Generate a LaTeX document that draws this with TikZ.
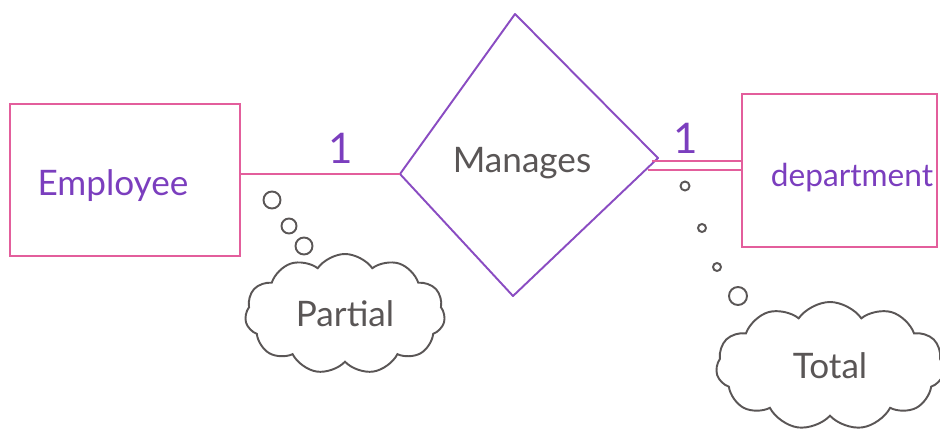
\documentclass[tikz,border=0pt]{standalone}
\usepackage{fontspec}
\setmainfont{Lato}
\usetikzlibrary{shapes.symbols,calc}
\definecolor{penpink}{HTML}{E35E9C}
\definecolor{penpurple}{HTML}{8A4CC2}
\definecolor{txtpurple}{HTML}{7B3EBE}
\definecolor{pengrey}{HTML}{5A5656}
\tikzset{
  entity/.style={draw=penpink, line width=1.1pt, rectangle},
  reltext/.style={text=pengrey, font=\fontsize{20}{24}\selectfont},
  enttext/.style={text=txtpurple, font=\fontsize{20}{24}\selectfont},
  cardlabel/.style={text=txtpurple, font=\fontsize{24}{28}\selectfont},
  thought/.style={draw=pengrey, line width=1.1pt, cloud, cloud puffs=11, cloud puff arc=110, cloud ignores aspect, inner sep=0pt, text=pengrey, font=\fontsize{20}{24}\selectfont},
  bubble/.style={draw=pengrey, line width=1.1pt, circle, inner sep=0pt},
  conn/.style={draw=penpink, line width=1.1pt},
}
\begin{document}
\begin{tikzpicture}[x=0.02cm,y=-0.02cm]
\useasboundingbox (0,0) rectangle (940,433);
% entities
\node[entity, minimum width=230*0.02cm, minimum height=152*0.02cm] (emp) at (125,180) {};
\node[enttext] (emptext) at (113,186) {Employee};
\node[entity, minimum width=195*0.02cm, minimum height=153*0.02cm] (dept) at (839.5,170.5) {};
\node[enttext, font=\fontsize{18}{21}\selectfont] (depttext) at (852,178) {department};
% relationship diamond
\coordinate (dt) at (515,14);
\coordinate (dl) at (400,174);
\coordinate (db) at (513,296);
\coordinate (dr) at (658,158);
\draw[penpurple, line width=1.1pt, line join=round] (dt) -- (dr) -- (db) -- (dl) -- cycle;
\node[reltext] (rel) at (522,163) {Manages};
% connectors
\draw[conn] (emp.east |- dl) -- (dl);
\coordinate (du) at (652,161);
\coordinate (dd) at (648,170);
\draw[conn] (du) -- (dept.west |- du);
\draw[conn] (dd) -- (dept.west |- dd);
\node[cardlabel] (c1) at (341,148) {1};
\node[cardlabel] (c2) at (686,138) {1};
% partial thought
\node[bubble, minimum size=17*0.02cm] (p1) at (272,200) {};
\node[bubble, minimum size=15*0.02cm] (p2) at (289,226) {};
\node[bubble, minimum size=17*0.02cm] (p3) at (304,246) {};
\node[thought, minimum width=200*0.02cm, minimum height=120*0.02cm] (partial) at (345,314) {Partial};
% total thought
\node[bubble, minimum size=9*0.02cm] (t1) at (685,186) {};
\node[bubble, minimum size=8*0.02cm] (t2) at (702,228) {};
\node[bubble, minimum size=8*0.02cm] (t3) at (717,267) {};
\node[bubble, minimum size=18*0.02cm] (t4) at (738,296) {};
\node[thought, minimum width=228*0.02cm, minimum height=128*0.02cm] (total) at (830,366) {Total};
\end{tikzpicture}
\end{document}
